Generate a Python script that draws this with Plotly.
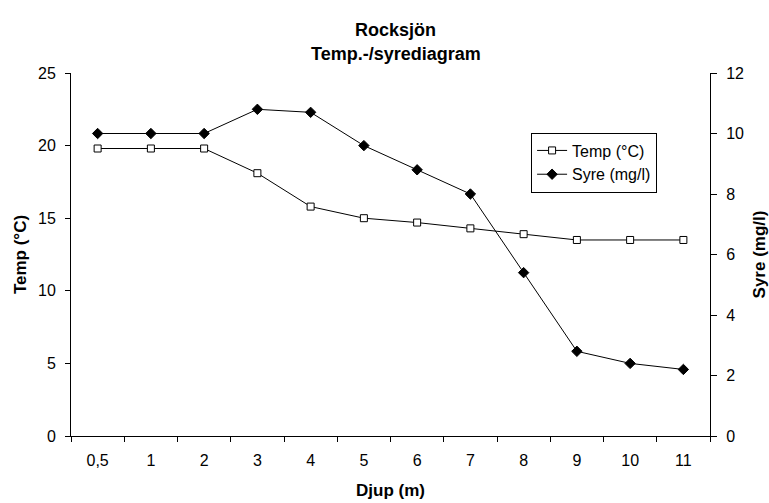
import plotly.graph_objects as go

depths = ["0,5", "1", "2", "3", "4", "5", "6", "7", "8", "9", "10", "11"]
temp = [19.8, 19.8, 19.8, 18.1, 15.8, 15.0, 14.7, 14.3, 13.9, 13.5, 13.5, 13.5]
syre = [10.0, 10.0, 10.0, 10.8, 10.7, 9.6, 8.8, 8.0, 5.4, 2.8, 2.4, 2.2]
title_lines = ["Rocksjön", "Temp.-/syrediagram"]

FONT = "Liberation Sans, Arial, sans-serif"

fig = go.Figure()
fig.add_trace(go.Scatter(
    x=depths, y=temp, name="Temp (°C)", mode="lines+markers",
    line=dict(color="black", width=1),
    marker=dict(symbol="square", size=7, color="white", line=dict(color="black", width=1)),
))
fig.add_trace(go.Scatter(
    x=depths, y=syre, name="Syre (mg/l)", mode="lines+markers", yaxis="y2",
    line=dict(color="black", width=1),
    marker=dict(symbol="diamond", size=8, color="black", line=dict(color="black", width=1)),
))

for txt, yy in zip(title_lines, [1.118, 1.052]):
    fig.add_annotation(text="<b>%s</b>" % txt, xref="paper", yref="paper",
                       x=0.508, y=yy, xanchor="center", yanchor="middle",
                       showarrow=False, font=dict(family=FONT, size=18, color="black"))

fig.update_layout(
    width=769, height=503,
    margin=dict(l=71, r=59, t=73, b=67),
    paper_bgcolor="white", plot_bgcolor="white",
    font=dict(family=FONT, size=16, color="black"),
    showlegend=True,
    legend=dict(x=0.72, y=0.836, xanchor="left", yanchor="top",
                bgcolor="white", bordercolor="black", borderwidth=1,
                font=dict(family=FONT, size=16, color="black"),
                tracegroupgap=0, itemwidth=30),
    xaxis=dict(
        type="category", range=[-0.5, 11.5], tickson="boundaries",
        showline=True, linecolor="black", linewidth=1,
        ticks="outside", ticklen=5, tickcolor="black",
        showgrid=False, zeroline=False, automargin=False,
        ticklabelstandoff=10,
        title=dict(text="<b>Djup (m)</b>", font=dict(size=17), standoff=15),
    ),
    yaxis=dict(
        range=[0, 25], dtick=5,
        showline=True, linecolor="black", linewidth=1,
        ticks="outside", ticklen=5, tickcolor="black",
        showgrid=False, zeroline=False, automargin=False,
        ticklabelstandoff=6,
        title=dict(text="<b>Temp (°C)</b>", font=dict(size=17), standoff=7),
    ),
    yaxis2=dict(
        range=[0, 12], dtick=2, overlaying="y", side="right",
        showline=True, linecolor="black", linewidth=1,
        ticks="outside", ticklen=6, tickcolor="black",
        showgrid=False, zeroline=False, automargin=False,
        ticklabelstandoff=6,
        title=dict(text="<b>Syre (mg/l)</b>", font=dict(size=17), standoff=13),
    ),
)

fig.write_html("out.html")
